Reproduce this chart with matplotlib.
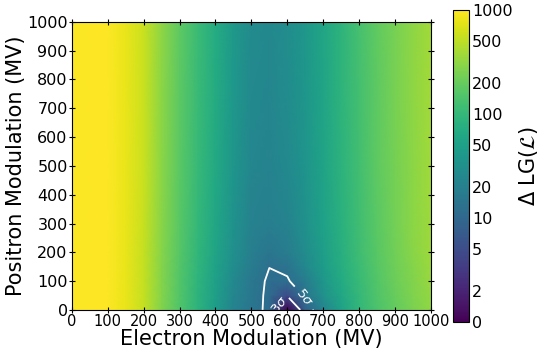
import numpy as np
import matplotlib
matplotlib.use('Agg')
import matplotlib.pyplot as plt
from matplotlib.colors import LogNorm

# grid of modulation potentials (MV)
electron_mv = [0, 50, 100, 150, 200, 250, 300, 350, 400, 450, 500,
               550, 600, 650, 700, 750, 800, 850, 900, 950, 1000]
positron_mv = [0, 50, 100, 150, 200, 300, 500, 750, 1000]

# Delta LG, one row per positron value (1 = best fit, shown as "0")
row_0 = [950, 1000, 1000, 800, 540, 272, 150, 86, 46, 22, 15, 11.2, 1, 8.0, 22, 52, 95, 140, 190, 250, 320]
row_50 = [950, 1000, 1000, 800, 540, 275, 152, 88, 48, 24, 15.5, 11.2, 4.8, 14.5, 32, 60, 100, 148, 200, 260, 330]
row_100 = [950, 1000, 1000, 800, 545, 278, 155, 90, 50, 26, 16, 11.5, 11.8, 17.8, 38, 66, 106, 155, 210, 270, 340]
row_150 = [950, 1000, 1000, 800, 550, 280, 158, 92, 53, 29, 17.5, 12.6, 14, 25, 44, 72, 112, 162, 220, 280, 350]
row_200 = [950, 1000, 1000, 800, 550, 285, 160, 95, 56, 31, 19, 15, 18, 28, 47, 76, 116, 168, 225, 290, 360]
row_300 = [950, 1000, 1000, 800, 560, 290, 165, 100, 60, 34, 21, 19, 22, 32, 51, 80, 120, 172, 232, 298, 368]
row_500 = [950, 1000, 1000, 800, 570, 300, 170, 105, 65, 38, 24, 22, 26, 36, 55, 84, 125, 178, 238, 305, 375]
row_750 = [950, 1000, 1000, 800, 575, 305, 175, 108, 68, 40, 26, 24, 28, 38, 57, 86, 128, 182, 242, 310, 380]
row_1000 = [950, 1000, 1000, 800, 580, 310, 180, 110, 70, 41, 27, 25, 29, 39, 58, 88, 130, 185, 245, 312, 385]

cbar_ticks = [1, 2, 5, 10, 20, 50, 100, 200, 500, 1000]
cbar_labels = ['0', '2', '5', '10', '20', '50', '100', '200', '500', '1000']
sigma_levels = [4.5, 12.5]
sigma_names = [r'3$\sigma$', r'5$\sigma$']

Z = np.array([row_0, row_50, row_100, row_150, row_200, row_300, row_500, row_750, row_1000])
X, Y = np.meshgrid(electron_mv, positron_mv)

fig = plt.figure(figsize=(5.4, 3.53), dpi=100)
ax = fig.add_axes([0.133, 0.122, 0.665, 0.816])
cax = fig.add_axes([0.839, 0.088, 0.03, 0.884])

mesh = ax.pcolormesh(X, Y, Z, cmap='viridis', norm=LogNorm(vmin=1, vmax=1000),
                     shading='gouraud', rasterized=True)

cs = ax.contour(X, Y, np.log10(Z), levels=np.log10(sigma_levels), colors='white', linewidths=1.3)
fmt = {lev: name for lev, name in zip(cs.levels, sigma_names)}
ax.clabel(cs, fmt=fmt, fontsize=9.5, inline=True, manual=[(572, 22), (650, 45)])

ax.set_xlim(0, 1000)
ax.set_ylim(0, 1000)
ax.set_xticks(np.arange(0, 1001, 100))
ax.set_yticks(np.arange(0, 1001, 100))
ax.tick_params(axis='both', direction='inout', top=True, right=True, length=4)
ax.tick_params(axis='x', labelsize=10.5, pad=1)
ax.tick_params(axis='y', labelsize=11.5, pad=1)
ax.set_xlabel('Electron Modulation (MV)', fontsize=15, labelpad=0)
ax.set_ylabel('Positron Modulation (MV)', fontsize=15, labelpad=1)

cb = fig.colorbar(mesh, cax=cax)
cb.set_ticks(cbar_ticks)
cb.set_ticklabels(cbar_labels)
cb.minorticks_off()
cb.ax.tick_params(labelsize=11.5, length=0, pad=2)
cb.set_label(r'$\Delta$ LG($\mathcal{L}$)', fontsize=15, labelpad=3)

fig.savefig('out.png', dpi=100)
